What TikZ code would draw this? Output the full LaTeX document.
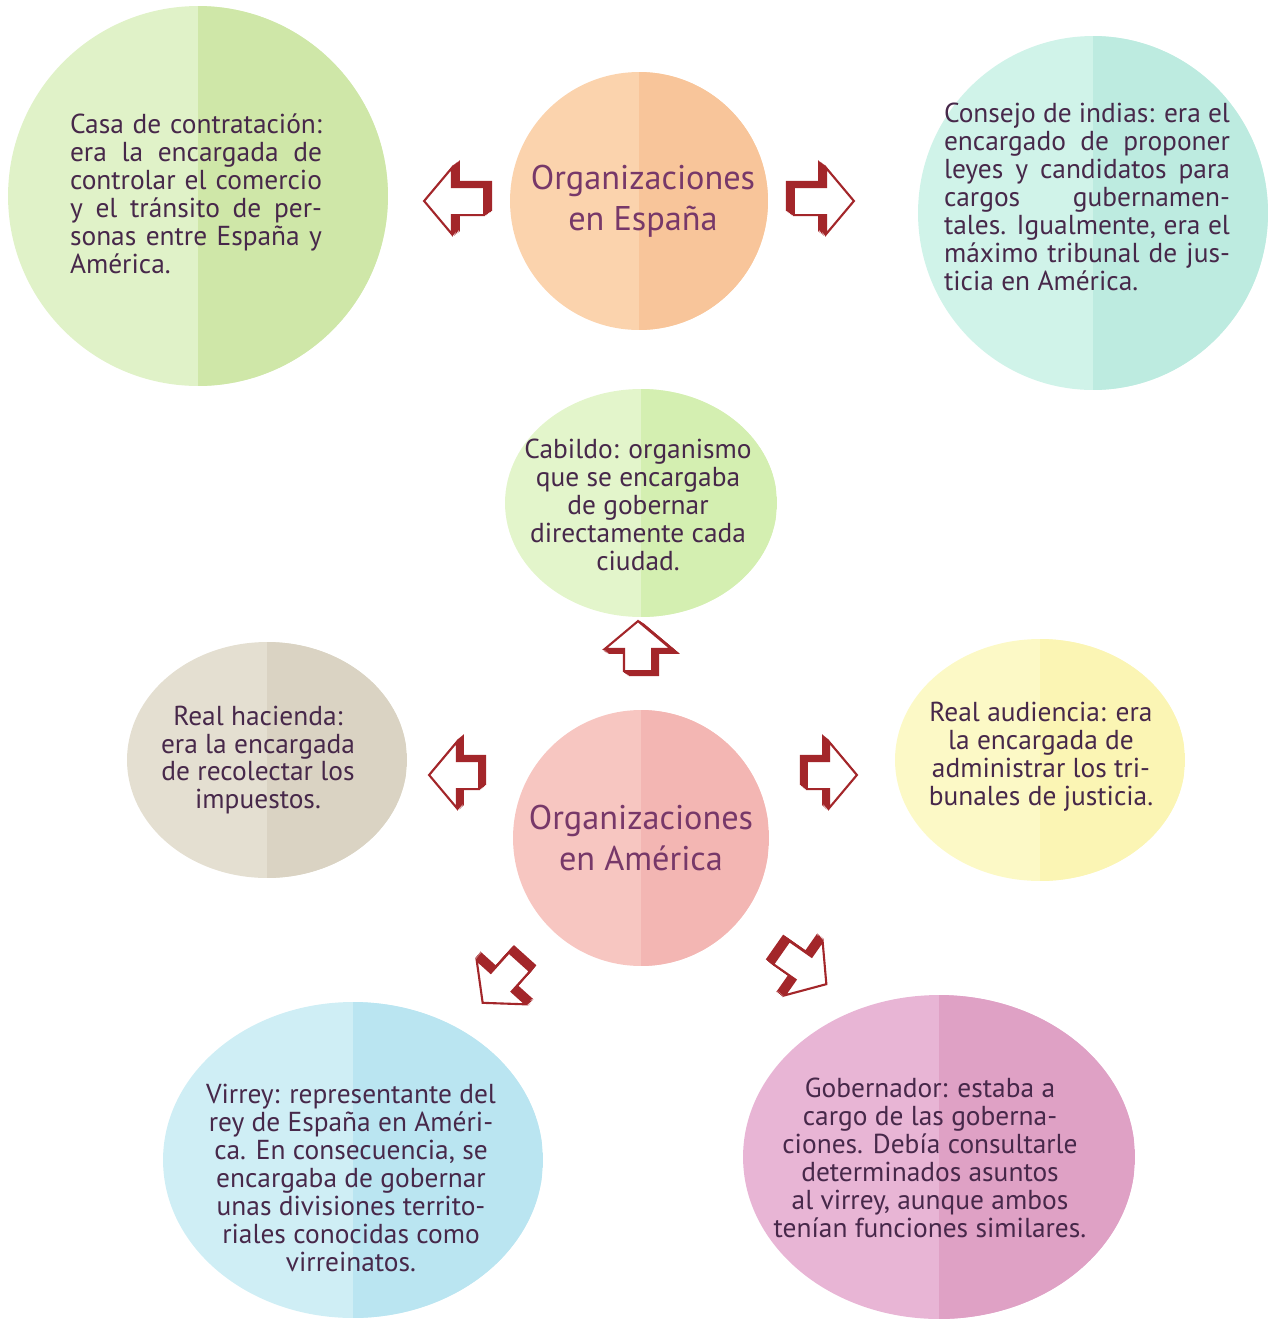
\documentclass[tikz,border=0pt]{standalone}
\usepackage{fontspec}
\setmainfont{PT Sans}
\usetikzlibrary{shapes.geometric,shapes.arrows,shadows}

\definecolor{texto}{HTML}{47284A}
\definecolor{titulo}{HTML}{773869}
\definecolor{flechaRoja}{HTML}{A3262A}
\definecolor{verdeA}{HTML}{E0F2C8}  \definecolor{verdeB}{HTML}{CFE7A8}
\definecolor{naranjaA}{HTML}{FBD3AD}\definecolor{naranjaB}{HTML}{F8C59A}
\definecolor{mentaA}{HTML}{D0F3E9}  \definecolor{mentaB}{HTML}{BDEBE0}
\definecolor{limaA}{HTML}{E3F5CB}   \definecolor{limaB}{HTML}{D4EFB1}
\definecolor{grisA}{HTML}{E4DFD1}   \definecolor{grisB}{HTML}{DAD3C3}
\definecolor{rosaA}{HTML}{F7C6C1}   \definecolor{rosaB}{HTML}{F3B6B3}
\definecolor{amarA}{HTML}{FCF9C6}   \definecolor{amarB}{HTML}{FBF5B4}
\definecolor{celesteA}{HTML}{CFEEF5}\definecolor{celesteB}{HTML}{BAE5F1}
\definecolor{malvaA}{HTML}{E8B5D5}  \definecolor{malvaB}{HTML}{DFA1C5}

% linea justificada
\newcommand\linea[2]{\makebox[#1][s]{#2}}

\begin{document}
\begin{tikzpicture}[
  x=0.02cm, y=-0.02cm,
  every node/.style = {text=texto},
  bubble/.style 2 args = {ellipse, fill=#1, inner sep=0pt,
        path picture={\fill[#2] (path picture bounding box.north)
                      rectangle (path picture bounding box.south east);}},
  txt/.style  = {font=\fontsize{15.6}{15.9}\selectfont, align=center, inner sep=0pt},
  tit/.style  = {font=\fontsize{19.5}{23.5}\selectfont, text=titulo,
                 align=center, inner sep=0pt},
  relieve/.style 2 args = {general shadow={fill=flechaRoja, draw=flechaRoja,
                        shadow xshift=#1, shadow yshift=#2}},
  flecha/.style 2 args = {single arrow, draw=flechaRoja, fill=white,
        line width=1.2pt, minimum height=1.2cm,
        single arrow head extend=0.38cm, single arrow tip angle=100,
        inner xsep=0pt, inner ysep=0.26cm,
        relieve={#1}{#2},
        relieve={0.8*#1}{0.8*#2},
        relieve={0.6*#1}{0.6*#2},
        relieve={0.4*#1}{0.4*#2},
        relieve={0.2*#1}{0.2*#2}},
]
\useasboundingbox (0,0) rectangle (1275,1319);

%% ---------- ORGANIZACIONES EN ESPAÑA ----------
\node[bubble={verdeA}{verdeB}, minimum width=7.6cm, minimum height=7.6cm]
      (casa) at (198,196) {};
\node[bubble={naranjaA}{naranjaB}, minimum width=5.16cm, minimum height=5.16cm]
      (espana) at (639,201) {};
\node[bubble={mentaA}{mentaB}, minimum width=7.0cm, minimum height=7.08cm]
      (consejo) at (1093,213) {};

\node[tit] (espanaT) at ([shift={(4,0)}]espana) {Organizaciones\\en España};

\node[txt, align=left] (casaT) at ([shift={(-2,-2)}]casa) {%
  \linea{5.04cm}{Casa de contratación:}\\
  \linea{5.04cm}{era la encargada de}\\
  \linea{5.04cm}{controlar el comercio}\\
  \linea{5.04cm}{y el tránsito de per-}\\
  \linea{5.04cm}{sonas entre España y}\\
  América.};

\node[txt, align=left] (consejoT) at ([shift={(-6,-16)}]consejo) {%
  \linea{5.72cm}{Consejo de indias: era el}\\
  \linea{5.72cm}{encargado de proponer}\\
  \linea{5.72cm}{leyes y candidatos para}\\
  \linea{5.72cm}{cargos gubernamen-}\\
  \linea{5.72cm}{tales. Igualmente, era el}\\
  \linea{5.72cm}{máximo tribunal de jus-}\\
  ticia en América.};

\node[flecha={0.14cm}{0.1cm}, rotate=180]  (fCasa)    at (460,201) {};
\node[flecha={-0.14cm}{0.1cm}]             (fConsejo) at (818,201) {};

%% ---------- ORGANIZACIONES EN AMÉRICA ----------
\node[bubble={limaA}{limaB}, minimum width=5.44cm, minimum height=4.56cm]
      (cabildo) at (641,503) {};
\node[bubble={grisA}{grisB}, minimum width=5.6cm, minimum height=4.72cm]
      (hacienda) at (267,760) {};
\node[bubble={rosaA}{rosaB}, minimum width=5.12cm, minimum height=5.12cm]
      (america) at (641,838) {};
\node[bubble={amarA}{amarB}, minimum width=5.8cm, minimum height=4.84cm]
      (audiencia) at (1040,760) {};
\node[bubble={celesteA}{celesteB}, minimum width=7.6cm, minimum height=6.32cm]
      (virrey) at (353,1160) {};
\node[bubble={malvaA}{malvaB}, minimum width=7.84cm, minimum height=6.48cm]
      (gobernador) at (939,1157) {};

\node[tit] (americaT) at (america) {Organizaciones\\en América};

\node[txt] (cabildoT) at ([shift={(-3,2)}]cabildo) {Cabildo: organismo\\
  que se encargaba\\de gobernar\\directamente cada\\ciudad.};
\node[txt] (haciendaT) at ([shift={(-9,0)}]hacienda) {Real hacienda:\\
  era la encargada\\de recolectar los\\impuestos.};
\node[txt] (audienciaT) at ([shift={(1,-3)}]audiencia) {Real audiencia: era\\
  la encargada de\\administrar los tri-\\bunales de justicia.};
\node[txt] (virreyT) at ([shift={(-2,18)}]virrey) {Virrey: representante del\\
  rey de España en Améri-\\ca. En consecuencia, se\\encargaba de gobernar\\
  unas divisiones territo-\\riales conocidas como\\virreinatos.};
\node[txt] (gobernadorT) at ([shift={(-9,1)}]gobernador) {Gobernador: estaba a\\
  cargo de las goberna-\\ciones. Debía consultarle\\determinados asuntos\\
  al virrey, aunque ambos\\tenían funciones similares.};

\node[flecha={0.12cm}{-0.08cm}, rotate=90, minimum height=1.0cm]
      (fCabildo) at (638,652) {};
\node[flecha={0.12cm}{0.1cm}, rotate=180, minimum height=1.0cm]
      (fHacienda) at (460,775) {};
\node[flecha={-0.12cm}{0.1cm}, minimum height=1.0cm]
      (fAudiencia) at (826,775) {};
\node[flecha={0.1cm}{0.12cm}, rotate=228, minimum height=1.1cm]
      (fVirrey) at (505,978) {};
\node[flecha={-0.12cm}{0.1cm}, rotate=-35, minimum height=1.1cm]
      (fGobernador) at (799,965) {};

\end{tikzpicture}
\end{document}
